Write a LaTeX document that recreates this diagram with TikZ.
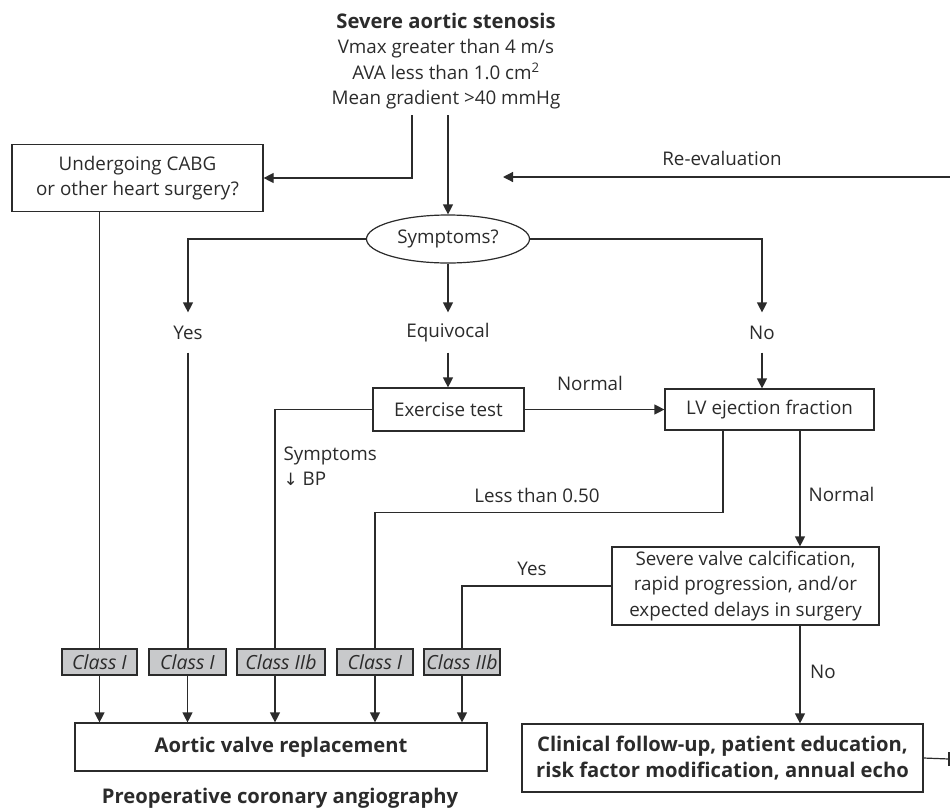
\documentclass[tikz,border=0pt]{standalone}
\usepackage{fontspec}
\setmainfont{Open Sans}
\newfontfamily\arrowfont{DejaVu Sans}
\usepackage{tikz}
\usetikzlibrary{arrows.meta,shapes.geometric}

\definecolor{ink}{HTML}{2B2B2B}
\definecolor{classgray}{HTML}{C8C9CB}

\begin{document}
\begin{tikzpicture}[x=1pt, y=-1pt, line width=1.2pt, draw=ink, text=ink,
  font=\fontsize{18.8}{25.5}\selectfont,
  arr/.style={-{Triangle[length=10, width=10]}},
  box/.style={draw, rectangle, inner sep=0pt, align=center},
  boldtext/.style={font=\fontsize{20.2}{25.5}\selectfont\bfseries},
  classbox/.style={draw, rectangle, fill=classgray, inner sep=0pt,
    minimum height=26, font=\fontsize{19.5}{21}\selectfont\itshape},
  lab/.style={inner sep=0pt, minimum height=39}]

\useasboundingbox (0,0) rectangle (950,809);

\node[align=center, inner sep=0pt] (asx) at (446,61)
  {{\fontsize{20.2}{25.5}\selectfont\bfseries Severe aortic stenosis}\\Vmax greater than 4 m/s\\
   AVA less than 1.0 cm\textsuperscript{2}\\Mean gradient >40 mmHg};
\coordinate (top1) at (412,115);
\coordinate (top2) at (448,115);

\node[box, minimum width=251, minimum height=67] (cabg) at (137.5,178)
  {Undergoing CABG\\or other heart surgery?};
\node[draw, ellipse, inner sep=0pt, minimum width=163, minimum height=48] (sym) at (448,239) {Symptoms?};

\coordinate (rvout) at (950,177);
\coordinate (rvin)  at (503,177);
\node[inner sep=0pt] (reval) at (722,158) {Re-evaluation};

\node[lab] (yes) at (188,332.5) {Yes};
\node[lab] (eq)  at (448,332.5) {Equivocal};
\node[lab] (no)  at (762,332.5) {No};

\node[box, minimum width=151, minimum height=43] (ex) at (448.5,409.5) {Exercise test};
\node[box, minimum width=209, minimum height=41] (lv) at (769.5,409.5) {LV ejection fraction};
\node[box, minimum width=267, minimum height=78] (sev) at (745.5,586)
  {Severe valve calcification,\\rapid progression, and/or\\expected delays in surgery};

\node[inner sep=0pt] (normal1) at (590,383) {Normal};
\node[inner sep=0pt, anchor=west] (normal2) at (808,494) {Normal};
\node[inner sep=0pt, anchor=west, align=left] (symbp) at (283,466)
  {Symptoms\\{\arrowfont\fontsize{17}{25.5}\selectfont ↓} BP};
\node[inner sep=0pt] (less) at (537,495) {Less than 0.50};
\node[inner sep=0pt] (yes2) at (532,569) {Yes};
\node[inner sep=0pt] (no2)  at (823,672) {No};

\node[classbox, minimum width=75] (c1) at (99.5,662)  {Class I};
\node[classbox, minimum width=77] (c2) at (187.5,662) {Class I};
\node[classbox, minimum width=88] (c3) at (281,662)   {Class IIb};
\node[classbox, minimum width=76] (c4) at (375,662)   {Class I};
\node[classbox, minimum width=76] (c5) at (462,662)   {Class IIb};

\node[box, boldtext, minimum width=412, minimum height=48] (avr) at (281,747)
  {Aortic valve replacement};
\node[inner sep=0pt, boldtext] (preop) at (280,798)
  {Preoperative coronary angiography};
\node[box, boldtext, minimum width=401, minimum height=68] (fu) at (722.5,758)
  {Clinical follow-up, patient education,\\risk factor modification, annual echo};
\coordinate (fuend) at (949,759);

\draw[arr] (top1) |- (cabg.east);
\draw[arr] (top2) -- (sym.north);
\draw[arr] (rvout) -- (rvin);

\draw[arr] (sym.west) -| (yes.north);
\draw[arr] (sym.south) -- (eq.north);
\draw[arr] (sym.east) -| (no.north);
\draw      (yes.south) -- (yes.south |- c2.north);
\draw[arr] (eq.south) -- (eq.south |- ex.north);
\draw[arr] (no.south) -- (no.south |- lv.north);

\draw[arr] (ex.east) -- (lv.west);
\draw      (ex.west) -| ([xshift=-6]c3.north);
\draw      ([xshift=-46.5]lv.south) -- ++(0,82) -| (c4.north);
\draw[arr] ([xshift=30.5]lv.south) -- ([xshift=30.5]lv.south |- sev.north);
\draw      (sev.west) -| (c5.north);
\draw[arr] ([xshift=54.5]sev.south) -- ([xshift=54.5]sev.south |- fu.north);
\draw      (c1.north |- cabg.south) -- (c1.north);

\foreach \c/\s in {c1/0, c2/0, c3/-6, c4/0, c5/0}
  \draw[arr] ([xshift=\s]\c.south) -- ([xshift=\s]\c.south |- avr.north);

\draw (fu.east) -- (fuend);
\draw ([yshift=-7]fuend) -- ([yshift=7]fuend);

\end{tikzpicture}
\end{document}
